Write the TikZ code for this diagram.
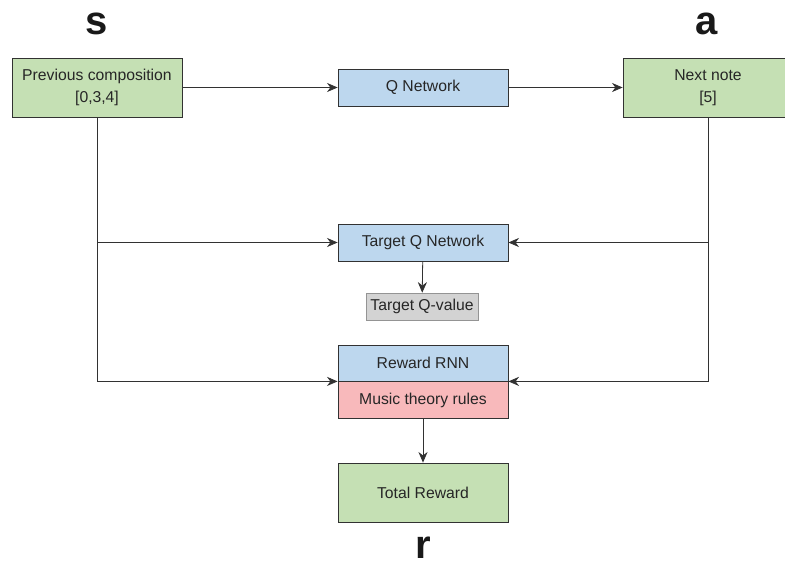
\documentclass[tikz,border=0pt]{standalone}
\usepackage{fontspec}
\setsansfont{Liberation Sans}
\usetikzlibrary{arrows.meta,positioning}
\definecolor{boxgreen}{RGB}{197,224,180}
\definecolor{boxblue}{RGB}{189,215,238}
\definecolor{boxpink}{RGB}{248,185,187}
\definecolor{boxgray}{RGB}{211,211,211}
\definecolor{edge}{RGB}{50,50,50}
\tikzset{%
    >={Stealth[width=2.4mm,length=2.8mm]},
    % Specifications for style of nodes:
    base/.style = {
        rectangle, draw=edge, line width=0.6pt,
        minimum width=127.5pt, minimum height=27.75pt,
        text centered, font=\sffamily\fontsize{11.8}{16.5}\selectfont,
        text=black!85, align=center, inner sep=0pt
    },
    state/.style = {base, fill=boxgreen, minimum height=44.25pt},
    net/.style = {base, fill=boxblue},
    rules/.style = {base, fill=boxpink},
    value/.style = {base, fill=boxgray, draw=boxgray!70!black, line width=0.4pt,
        minimum width=84pt, minimum height=20.25pt},
    letter/.style = {font=\sffamily\bfseries\fontsize{30}{32}\selectfont, text=black!90},
    link/.style = {->, draw=edge, line width=0.6pt}
}
\begin{document}
\begin{tikzpicture}[x=0.75pt, y=-0.75pt]
    \useasboundingbox (0,0) rectangle (785,569);
    % state, action and reward letters
    \node[letter] (s) at (97,24) {s};
    \node[letter] (a) at (707,24) {a};
    \node[letter] (r) at (423,548) {r};
    % boxes
    \node[state] (prev) at (97,87.5) {Previous composition\\{}[0,3,4]};
    \node[net] (qnet) at (423,87.5) {Q Network};
    \node[state] (next) at (708,87.5) {Next note\\{}[5]};
    \node[net] (tqnet) at (423,242.5) {Target Q Network};
    \node[value] (tqval) at (422,306.5) {Target Q-value};
    \node[net, minimum height=27pt] (rnn) at (423,363) {Reward RNN};
    \node[rules, minimum height=27.75pt, below=0pt of rnn] (theory) {Music theory rules};
    \node[state] (total) at (423,492.5) {Total Reward};
    % connections
    \draw[link] (prev) -- (qnet);
    \draw[link] (qnet) -- (next);
    \draw[link] (prev.south) |- (tqnet.west);
    \draw[link] (prev.south) |- (rnn.south west);
    \draw[link] (next.south) |- (tqnet.east);
    \draw[link] (next.south) |- (rnn.south east);
    \draw[link] (tqnet) -- (tqval);
    \draw[link] (theory) -- (total);
\end{tikzpicture}
\end{document}
